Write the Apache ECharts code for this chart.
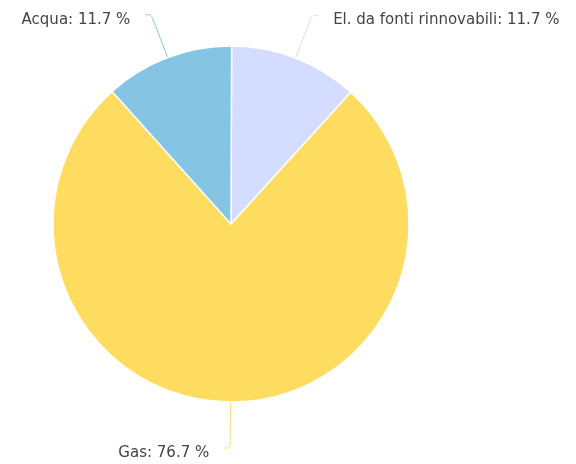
<!DOCTYPE html>
<html>
<head>
<meta charset="utf-8">
<script src="https://cdn.jsdelivr.net/npm/echarts@6/dist/echarts.min.js"></script>
<style>
  html, body { margin: 0; padding: 0; background: #fff; }
  #chart { width: 576px; height: 464px; }
</style>
</head>
<body>
<div id="chart"></div>
<script>
// sources, clockwise from the top
const categories = ['El. da fonti rinnovabili', 'Gas', 'Acqua'];
const shares = [11.7, 76.7, 11.7];
const colors = ['#d4dcff', '#fedc60', '#85c5e3'];

const chart = echarts.init(document.getElementById('chart'));

chart.setOption({
  animation: false,
  series: [{
    type: 'pie',
    center: [231, 224],
    radius: [0, 178],
    // a hair off 90 so the Gas label falls to the left like the original
    startAngle: 89.8,
    clockwise: true,
    data: categories.map((name, i) => ({
      name: name,
      value: shares[i],
      itemStyle: { color: colors[i] }
    })),
    itemStyle: { borderColor: '#fff', borderWidth: 1.5 },
    label: {
      show: true,
      formatter: p => p.name + ': ' + p.value + ' %',
      fontFamily: 'DejaVu Sans',
      fontSize: 15,
      color: '#444',
      distanceToLabelLine: 15
    },
    labelLine: {
      show: true,
      length: 46,
      length2: 6,
      smooth: 0.3,
      lineStyle: { width: 1 }
    },
    // text sits a little below the end of its line in the original
    labelLayout: { dy: 5 }
  }]
});
</script>
</body>
</html>
